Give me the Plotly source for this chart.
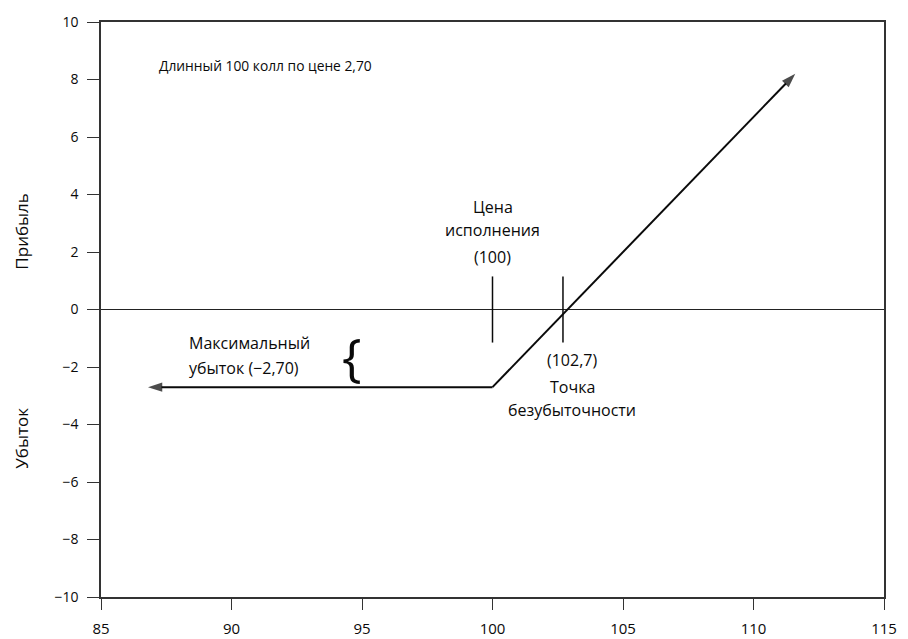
import plotly.graph_objects as go

# Data
price_left = [100, 86.8]
pnl_left = [-2.7, -2.7]
price_right = [100, 111.6]
pnl_right = [-2.7, 8.2]
strike = 100
breakeven = 102.7
marker_half = 1.15
x_ticks = [85, 90, 95, 100, 105, 110, 115]
y_ticks = [10, 8, 6, 4, 2, 0, -2, -4, -6, -8, -10]

FONT = "Open Sans"
INK = "#0a0a0a"

fig = go.Figure()

# zero line
fig.add_trace(go.Scatter(x=[85, 115], y=[0, 0], mode="lines",
                         line=dict(color="#222", width=1.2), hoverinfo="skip"))
# strike and breakeven markers
for xv in [strike, breakeven]:
    fig.add_trace(go.Scatter(x=[xv, xv], y=[-marker_half, marker_half], mode="lines",
                             line=dict(color=INK, width=1.5), hoverinfo="skip"))
# payoff segments with arrowheads
for xs, ys in [(price_left, pnl_left), (price_right, pnl_right)]:
    fig.add_trace(go.Scatter(
        x=xs, y=ys, mode="lines+markers",
        line=dict(color=INK, width=2),
        marker=dict(symbol=["circle", "arrow"], size=[0, 15], color="#000",
                    angleref="previous", line=dict(width=0)),
        hoverinfo="skip"))

def label(x, y, text, size=16, xanchor="center"):
    fig.add_annotation(x=x, y=y, text=text, showarrow=False, xanchor=xanchor,
                       yanchor="middle", font=dict(family=FONT, size=size, color=INK))

label(87.15, 8.47, "Длинный 100 колл по цене 2,70", size=13.8, xanchor="left")
label(strike, 3.57, "Цена")
label(strike, 2.77, "исполнения")
label(strike, 1.83, "(100)")
label(103.05, -1.76, "(102,7)")
label(103.05, -2.70, "Точка")
label(103.05, -3.50, "безубыточности")
label(88.3, -1.17, "Максимальный", xanchor="left")
label(88.3, -2.04, "убыток (−2,70)", xanchor="left")
label(94.6, -1.6, "{", size=52)

af = dict(family=FONT, size=17, color=INK)
fig.add_annotation(xref="paper", yref="paper", x=-0.101, y=0.637, text="Прибыль",
                   textangle=-90, showarrow=False, xanchor="center", yanchor="middle", font=af)
fig.add_annotation(xref="paper", yref="paper", x=-0.101, y=0.277, text="Убыток",
                   textangle=-90, showarrow=False, xanchor="center", yanchor="middle", font=af)

fig.update_layout(
    width=908, height=639,
    margin=dict(l=93, r=32, t=14, b=50, autoexpand=False),
    paper_bgcolor="white", plot_bgcolor="white",
    showlegend=False,
    font=dict(family=FONT, size=14, color=INK),
)
fig.update_xaxes(range=[85, 115], tickvals=x_ticks, showgrid=False, zeroline=False,
                 showline=True, mirror=True, linecolor="#333", linewidth=1.5,
                 ticks="outside", ticklen=11, tickcolor="#333", automargin=False,
                 ticklabelstandoff=6,
                 tickfont=dict(family=FONT, size=15, color=INK))
fig.update_yaxes(range=[-10, 10], tickvals=y_ticks, showgrid=False, zeroline=False,
                 showline=True, mirror=True, linecolor="#333", linewidth=1.5,
                 ticks="outside", ticklen=12, tickcolor="#333", automargin=False,
                 ticklabelstandoff=6,
                 tickfont=dict(family=FONT, size=14, color=INK))

fig.write_html("out.html")
